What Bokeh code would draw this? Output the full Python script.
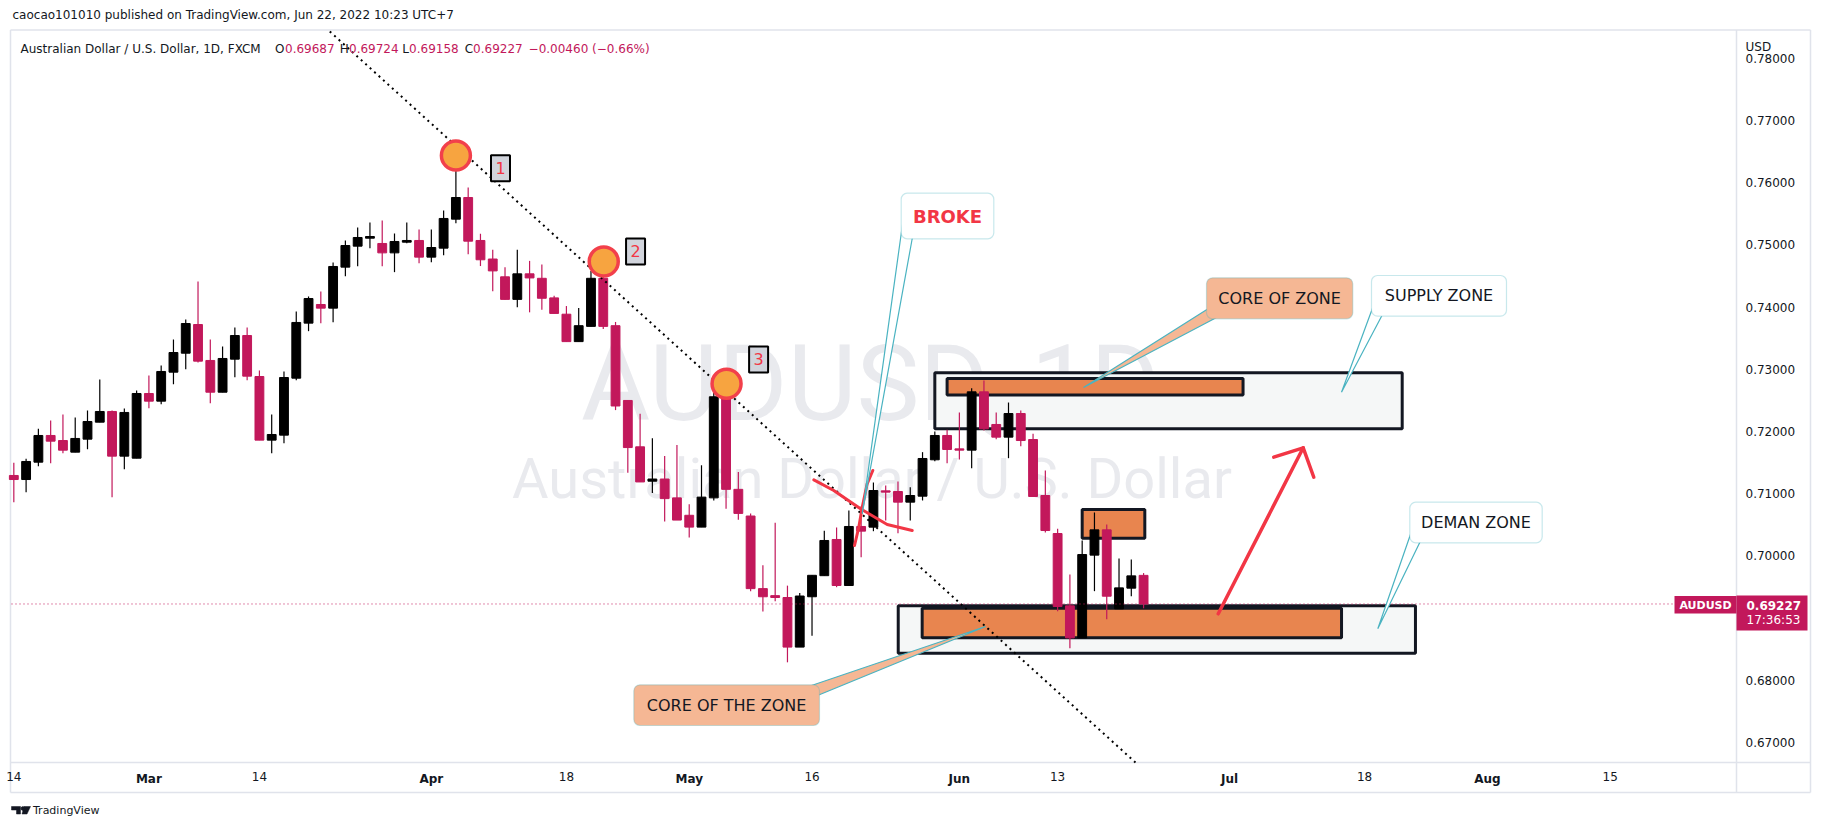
import numpy as np
import pandas as pd
from bokeh.plotting import figure
from bokeh.models import (Range1d, FixedTicker, NumeralTickFormatter, Label,
                          BoxAnnotation, ColumnDataSource)
from bokeh.core.properties import value
from bokeh.embed import file_html
from bokeh.resources import INLINE

# ---------------- data (AUDUSD daily, FXCM) ----------------
dates = pd.bdate_range("2022-02-14", "2022-06-22")

opens = [0.71293, 0.71228, 0.71507, 0.71936, 0.71855, 0.71668, 0.71877, 0.72150, 0.72322, 0.71604, 0.71571,
         0.72611, 0.72488, 0.72954, 0.73259, 0.73720, 0.73142, 0.72632, 0.73163, 0.73543, 0.72884,
         0.71861, 0.71941, 0.72857, 0.73742, 0.74042, 0.73983, 0.74642, 0.74980, 0.75108, 0.75023,
         0.74872, 0.75044, 0.75071, 0.74803, 0.74948, 0.75414, 0.75762, 0.75071, 0.74773, 0.74487,
         0.74124, 0.74535, 0.74463, 0.74148, 0.73886, 0.73445, 0.73690, 0.74463, 0.73701, 0.72499,
         0.71754, 0.71201, 0.71236, 0.70933, 0.70653, 0.70463, 0.70933, 0.72558, 0.71070, 0.70641,
         0.69474, 0.69361, 0.69331, 0.68534, 0.69343, 0.69682, 0.70264, 0.69524, 0.70473, 0.70462,
         0.71046, 0.71035, 0.70864, 0.70960, 0.71545, 0.71936, 0.71721, 0.71700, 0.72638, 0.72113,
         0.71909, 0.72289, 0.71871, 0.70971, 0.70360, 0.69197, 0.68682, 0.70012, 0.70419, 0.69149,
         0.69481, 0.69687]
highs = [0.71496, 0.71561, 0.72043, 0.72177, 0.72273, 0.72225, 0.72338, 0.72836, 0.72338, 0.72370, 0.72659,
         0.72900, 0.73061, 0.73479, 0.73801, 0.74412, 0.73479, 0.73367, 0.73672, 0.73672, 0.72981,
         0.72273, 0.72965, 0.73929, 0.74171, 0.74251, 0.74717, 0.75071, 0.75280, 0.75360, 0.75392,
         0.75183, 0.75360, 0.75248, 0.75248, 0.75553, 0.76619, 0.75923, 0.75178, 0.74922, 0.74642,
         0.74922, 0.74743, 0.74684, 0.74184, 0.74017, 0.73987, 0.74582, 0.74570, 0.73761, 0.72499,
         0.72284, 0.71891, 0.71606, 0.71784, 0.70832, 0.71457, 0.72648, 0.72648, 0.71350, 0.70683,
         0.69849, 0.70534, 0.69522, 0.69403, 0.69688, 0.70403, 0.70457, 0.70730, 0.70800, 0.71180,
         0.71132, 0.71196, 0.71105, 0.71668, 0.72000, 0.72027, 0.72305, 0.72697, 0.72820, 0.72305,
         0.72466, 0.72337, 0.71962, 0.71373, 0.70435, 0.69701, 0.70247, 0.70698, 0.70505, 0.69958,
         0.69942, 0.69724]
lows = [0.70864, 0.71025, 0.71443, 0.71491, 0.71652, 0.71668, 0.71716, 0.72150, 0.70944, 0.71395, 0.71571,
        0.72375, 0.72439, 0.72761, 0.73002, 0.73109, 0.72455, 0.72632, 0.72874, 0.72825, 0.71861,
        0.71652, 0.71812, 0.72825, 0.73613, 0.73742, 0.73758, 0.74497, 0.74658, 0.74948, 0.74658,
        0.74562, 0.75028, 0.74706, 0.74722, 0.74835, 0.75349, 0.74851, 0.74660, 0.74255, 0.74124,
        0.73999, 0.73916, 0.73957, 0.73898, 0.73445, 0.73445, 0.73690, 0.73648, 0.72344, 0.71338,
        0.71189, 0.71010, 0.70552, 0.70576, 0.70296, 0.70463, 0.70891, 0.70760, 0.70582, 0.69432,
        0.69105, 0.69272, 0.68289, 0.68534, 0.68718, 0.69682, 0.69497, 0.69524, 0.69980, 0.70397,
        0.70569, 0.70366, 0.70569, 0.70891, 0.71523, 0.71491, 0.71550, 0.71410, 0.72016, 0.71877,
        0.71571, 0.71764, 0.70955, 0.70376, 0.69111, 0.68516, 0.68682, 0.69433, 0.68983, 0.69149,
        0.69352, 0.69158]
closes = [0.71228, 0.71518, 0.71936, 0.71845, 0.71700, 0.71888, 0.72161, 0.72322, 0.71604, 0.72306, 0.72611,
          0.72488, 0.72965, 0.73270, 0.73736, 0.73131, 0.72632, 0.73174, 0.73543, 0.72890, 0.71861,
          0.71952, 0.72868, 0.73753, 0.74138, 0.73983, 0.74653, 0.74990, 0.75119, 0.75135, 0.74872,
          0.75055, 0.75071, 0.74803, 0.74958, 0.75425, 0.75762, 0.75060, 0.74761, 0.74582, 0.74124,
          0.74535, 0.74469, 0.74142, 0.73898, 0.73445, 0.73701, 0.74463, 0.73690, 0.72410, 0.71742,
          0.71189, 0.71236, 0.70921, 0.70576, 0.70463, 0.70945, 0.72558, 0.71070, 0.70683, 0.69474,
          0.69343, 0.69331, 0.68534, 0.69355, 0.69688, 0.70248, 0.69524, 0.70473, 0.70398, 0.71051,
          0.71025, 0.70864, 0.70971, 0.71566, 0.71936, 0.71711, 0.71700, 0.72638, 0.72043, 0.71909,
          0.72289, 0.71855, 0.70955, 0.70408, 0.69186, 0.68682, 0.70022, 0.70419, 0.69352, 0.69486,
          0.69679, 0.69227]

day_tick_dates = ["2022-02-14", "2022-03-14", "2022-04-18", "2022-05-16", "2022-06-13",
                  "2022-07-18", "2022-08-15"]
day_tick_labels = ["14", "14", "18", "16", "13", "18", "15"]
month_tick_dates = ["2022-03-01", "2022-04-01", "2022-05-02", "2022-06-01", "2022-07-01", "2022-08-01"]
month_tick_labels = ["Mar", "Apr", "May", "Jun", "Jul", "Aug"]
price_ticks = [0.67, 0.68, 0.69, 0.70, 0.71, 0.72, 0.73, 0.74, 0.75, 0.76, 0.77, 0.78]

last_price = 0.69227

# chart drawings (bar index from 1 Mar 2022, price)
trend_x = [14.73, 80.34]
trend_y = [0.78431, 0.66679]
pivot_x = [25.0, 37.04, 47.04]
pivot_y = [0.76437, 0.74733, 0.72767]
num_x = [28.63, 39.63, 49.65]
num_y = [0.76233, 0.74894, 0.73158]
num_txt = ["1", "2", "3"]
# zones: left, right, top, bottom
outer_zones = [(64.0, 102.06, 0.72945, 0.72043), (61.02, 103.14, 0.69200, 0.68436)]
core_zones = [(65.0, 89.1, 0.72852, 0.72587), (76.0, 81.1, 0.70746, 0.70284), (62.97, 97.12, 0.69158, 0.68683)]
arc1_x = [54.15, 55.77, 57.95, 60.12, 62.16]
arc1_y = [0.71223, 0.71051, 0.70757, 0.70505, 0.70408]
arc2_x = [57.46, 57.81, 58.09, 58.49, 58.95]
arc2_y = [0.70167, 0.70461, 0.70783, 0.71159, 0.71373]
arrow_x = [87.08, 94.0]
arrow_y = [0.69069, 0.71738]
wing_xs = [[91.60, 94.0, 94.86]]
wing_ys = [[0.71587, 0.71738, 0.71265]]

# ---------------- layout helpers (reference pixel -> data) ----------------
W, H = 1820, 830


def sx(X):
    return (X - 148.4) / 12.28


def sy(Y):
    return 0.77 - (Y - 120.0) / 6220.0


UP = "#000000"
DOWN = "#c2185b"
RED = "#f23645"
TEAL = "#4ab3c1"
SALMON = "#f5b794"
ORANGE = "#e8854f"
DARK = "#131722"
GRID = "#e0e3eb"
FONT = "DejaVu Sans"


def bidx(ds):
    return [int(v) for v in np.busday_count(np.datetime64("2022-03-01"), np.array(ds, dtype="datetime64[D]"))]


idx = np.busday_count(np.datetime64("2022-03-01"), dates.values.astype("datetime64[D]"))
o = np.array(opens); h = np.array(highs); l = np.array(lows); c = np.array(closes)
src = ColumnDataSource(dict(
    x=idx, low=l, high=h,
    top=np.maximum(o, c), bottom=np.minimum(o, c),
    color=[UP if cc >= oo else DOWN for oo, cc in zip(o, c)],
))

p = figure(width=W, height=H, output_backend="svg", toolbar_location=None,
           x_range=Range1d(sx(0), sx(W)), y_range=Range1d(sy(H), sy(0)),
           y_axis_location="right", min_border=0, min_border_left=0, min_border_right=0,
           min_border_top=0, min_border_bottom=0)
p.background_fill_color = "white"
p.border_fill_color = "white"
p.outline_line_color = None
p.grid.grid_line_color = None

# axes (drawn into the chart's own axis strips)
day_idx = bidx(day_tick_dates)
p.xaxis.ticker = FixedTicker(ticks=day_idx)
p.xaxis.major_label_overrides = {t: s for t, s in zip(day_idx, day_tick_labels)}
p.yaxis.ticker = FixedTicker(ticks=price_ticks)
p.yaxis.formatter = NumeralTickFormatter(format="0.00000")
for ax in (p.xaxis[0], p.yaxis[0]):
    ax.axis_line_color = None
    ax.major_tick_line_color = None
    ax.minor_tick_line_color = None
    ax.major_tick_out = 0
    ax.major_tick_in = 0
    ax.major_label_text_font = FONT
    ax.major_label_text_font_size = "12px"
    ax.major_label_text_color = DARK
p.xaxis.major_label_standoff = 771 - H
p.yaxis.major_label_standoff = 1745 - W

# watermark
p.text(x=[sx(870)], y=[sy(383)], text=["AUDUSD, 1D"], text_font=value("Roboto"),
       text_font_size="106px", text_color="#e9eaee", text_align="center", text_baseline="alphabetic")
p.text(x=[sx(871.5)], y=[sy(478)], text=["Australian Dollar / U.S. Dollar"], text_font=value("Roboto"),
       text_font_size="56px", text_color="#e9eaee", text_align="center", text_baseline="alphabetic")

# pane borders and separators
bx = [[10, 1810], [10, 1810], [10, 10], [1810, 1810], [1736, 1736], [10, 1810]]
by = [[29.5, 29.5], [792, 792], [29.5, 792], [29.5, 792], [29.5, 792], [762, 762]]
p.multi_line([[sx(a) for a in xs] for xs in bx], [[sy(b) for b in ys] for ys in by],
             line_color=GRID, line_width=1.5)

# zones
for (L, R, T, B) in outer_zones:
    p.quad(left=[L], right=[R], top=[T], bottom=[B], fill_color="#f5f7f7", line_color=DARK, line_width=3)
for (L, R, T, B) in core_zones:
    p.quad(left=[L], right=[R], top=[T], bottom=[B], fill_color=ORANGE, line_color=DARK, line_width=3)

# candles
p.segment(x0="x", y0="low", x1="x", y1="high", color="color", line_width=1.2, source=src)
p.vbar(x="x", width=0.72, top="top", bottom="bottom", fill_color="color", line_color="color",
       line_width=1, source=src)

# trend line
p.line(trend_x, trend_y, line_color="black", line_width=2, line_dash="2 4")

# current price line
p.segment(x0=[sx(11)], y0=[last_price], x1=[sx(1674)], y1=[last_price], line_color=DOWN,
          line_width=1, line_dash="1 3")

# red hand-drawn marks
p.line(arc1_x, arc1_y, line_color=RED, line_width=3, line_cap="round", line_join="round")
p.line(arc2_x, arc2_y, line_color=RED, line_width=3, line_cap="round", line_join="round")
p.line(arrow_x, arrow_y, line_color=RED, line_width=3.5, line_cap="round")
p.multi_line(wing_xs, wing_ys, line_color=RED, line_width=3.5, line_cap="round", line_join="round")

# pivots
p.scatter(pivot_x, pivot_y, marker="circle", size=29, fill_color="#f7a440", line_color="#f2404b",
          line_width=3.5)
p.rect(num_x, num_y, width=19, height=26, width_units="screen", height_units="screen",
       fill_color="#d1d4dc", line_color="black", line_width=2)
p.text(num_x, num_y, text=num_txt, text_font=value(FONT), text_font_size="16px", text_color=RED,
       text_align="center", text_baseline="middle")

# callouts: (box L, R, T, B in ref px), tail points, fill, text, text style
callouts = [
    ((900.7, 993.3, 192.7, 238.3), [(902, 224), (861.7, 513.3), (912, 236.5)], "white", "BROKE", RED, True, "18px"),
    ((1206, 1352.3, 277.3, 318.3), [(1208, 308), (1083, 387), (1217, 316.5)], SALMON, "CORE OF ZONE", DARK, False, "16px"),
    ((1371, 1506, 275, 315.7), [(1373, 305), (1341, 391.7), (1382, 314)], "white", "SUPPLY ZONE", DARK, False, "16px"),
    ((1409.3, 1541.7, 501.7, 542.3), [(1411, 531), (1377.3, 628.3), (1420, 540.5)], "white", "DEMAN ZONE", DARK, False, "16px"),
    ((633.3, 819, 684.3, 725), [(808, 686), (985, 626), (817, 695)], SALMON, "CORE OF THE ZONE", DARK, False, "16px"),
]
for (bl, br, bt, bb), tail, fill, txt, col, bold, fs in callouts:
    p.patch([sx(a) for a, _ in tail], [sy(b) for _, b in tail], fill_color=fill, line_color=TEAL,
            line_width=1.2)

# TradingView logo mark
logo_xs = [[11, 20, 20, 16, 16, 11], [23.5, 30, 26.5, 21.5]]
logo_ys = [[806, 806, 813.5, 813.5, 809.5, 809.5], [806, 806, 813.5, 813.5]]
p.patches([[sx(a) for a in xs] for xs in logo_xs], [[sy(b) for b in ys] for ys in logo_ys],
          fill_color=DARK, line_color=DARK, line_width=0.5)
p.scatter([sx(22.3)], [sy(808)], size=3.5, marker="circle", fill_color=DARK, line_color=DARK)

for (bl, br, bt, bb), tail, fill, txt, col, bold, fs in callouts:
    p.add_layout(BoxAnnotation(left=sx(bl), right=sx(br), top=sy(bt), bottom=sy(bb), fill_color=fill,
                               fill_alpha=1, line_color=TEAL, line_width=1.2, border_radius=6))
    p.add_layout(Label(x=sx((bl + br) / 2), y=sy((bt + bb) / 2), text=txt, text_font=FONT,
                       text_font_size=fs, text_color=col, text_font_style="bold" if bold else "normal",
                       text_align="center", text_baseline="middle"))


def lab(X, Y, text, size="12px", color=DARK, bold=False, align="left", bg=None, baseline="middle"):
    kw = {}
    if bg is not None:
        kw = dict(background_fill_color=bg, background_fill_alpha=1)
    p.add_layout(Label(x=sx(X), y=sy(Y), text=text, text_font=FONT, text_font_size=size,
                       text_color=color, text_font_style="bold" if bold else "normal",
                       text_align=align, text_baseline=baseline, **kw))


# month labels of the time scale (bold, as on TradingView)
for t, s in zip(bidx(month_tick_dates), month_tick_labels):
    p.add_layout(Label(x=t, y=sy(771), text=s, text_font=FONT, text_font_size="12px",
                       text_color=DARK, text_font_style="bold", text_align="center", text_baseline="top"))

# header and legend
lab(12, 14, "caocao101010 published on TradingView.com, Jun 22, 2022 10:23 UTC+7")
lab(20, 48, "Australian Dollar / U.S. Dollar, 1D, FXCM")
for X, t, col in [(274.6, "O", DARK), (284.5, "0.69687", DOWN), (339.3, "H", DARK), (348.5, "0.69724", DOWN),
                  (401.8, "L", DARK), (408.6, "0.69158", DOWN), (464.3, "C", DARK), (472.6, "0.69227", DOWN),
                  (528.1, "\u22120.00460 (\u22120.66%)", DOWN)]:
    lab(X, 48, t, color=col)

# price tags
p.add_layout(BoxAnnotation(left=sx(1674), right=sx(1736), top=sy(595.5), bottom=sy(613),
                           fill_color=DOWN, fill_alpha=1, line_alpha=0))
p.add_layout(BoxAnnotation(left=sx(1736), right=sx(1807), top=sy(595), bottom=sy(630),
                           fill_color=DOWN, fill_alpha=1, line_alpha=0))
lab(1705, 604.5, "AUDUSD", size="11px", color="white", bold=True, align="center")
lab(1746, 604.5, "0.69227", color="white", bold=True)
lab(1746, 619.5, "17:36:53", color="white")
lab(1745, 46, "USD", bg="white")
lab(32.5, 810, "TradingView", size="11px")

open("out.html", "w").write(file_html(p, INLINE))
